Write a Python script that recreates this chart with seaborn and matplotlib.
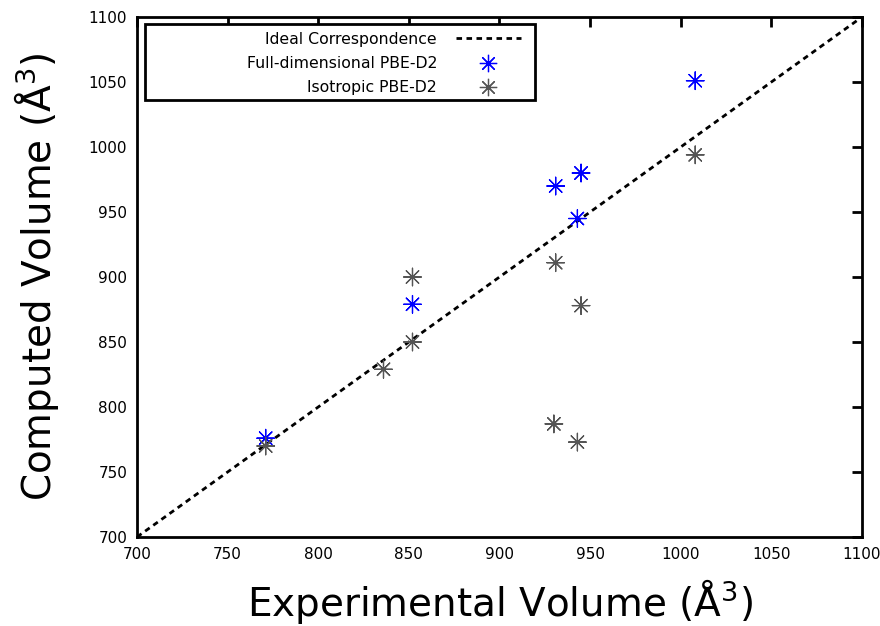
import matplotlib
matplotlib.use("Agg")
import matplotlib.pyplot as plt
from matplotlib.patches import Rectangle
from matplotlib.lines import Line2D
import seaborn as sns
import pandas as pd

# Data
full_exp = [771, 852, 931, 945, 943, 1008]
full_comp = [776, 879, 970, 980, 945, 1051]
iso_exp = [771, 836, 852, 852, 931, 945, 930, 943, 1008]
iso_comp = [770, 829, 850, 900, 911, 878, 787, 773, 994]
ideal_x = [700, 1100]
ideal_y = [700, 1100]
labels = ["Ideal Correspondence", "Full-dimensional PBE-D2", "Isotropic PBE-D2"]
ticks = [700, 750, 800, 850, 900, 950, 1000, 1050, 1100]

sns.set_theme(style="white")
plt.rcParams['font.family'] = ['DejaVu Sans']
plt.rcParams['text.color'] = 'black'
plt.rcParams['axes.labelcolor'] = 'black'

df = pd.DataFrame({
    "exp": full_exp + iso_exp,
    "comp": full_comp + iso_comp,
    "series": [labels[1]] * len(full_exp) + [labels[2]] * len(iso_exp),
})

fig = plt.figure(figsize=(8.8, 6.26), dpi=100)
ax = fig.add_axes([0.1557, 0.1422, 0.8238, 0.8306])

ideal_df = pd.DataFrame({"x": ideal_x, "y": ideal_y})
sns.lineplot(data=ideal_df, x="x", y="y", ax=ax, color="black", lw=2,
             linestyle=(0, (2.0, 1.6)), legend=False)

colors = {labels[1]: "#0000ff", labels[2]: "#555555"}
mk = (8, 2, 0)
sns.scatterplot(data=df, x="exp", y="comp", hue="series", palette=colors,
                marker=mk, s=160, linewidth=0.9, ax=ax, legend=False, zorder=3)

ax.set_xlim(700, 1100)
ax.set_ylim(700, 1100)
ax.set_xticks(ticks)
ax.set_yticks(ticks)
ax.tick_params(direction="in", length=7, width=2, top=True, right=True,
               labelsize=11, pad=7, colors="black", labelcolor="black")
for s in ax.spines.values():
    s.set_visible(True)
    s.set_linewidth(2)
    s.set_color("black")

ax.set_xlabel(r"Experimental Volume (Å$^{\mathregular{3}}$)", fontsize=28, labelpad=11)
ax.set_ylabel(r"Computed Volume (Å$^{\mathregular{3}}$)", fontsize=28, labelpad=20)

# legend frame
ax.add_patch(Rectangle((0.011, 0.840), 0.538, 0.1465, transform=ax.transAxes,
                       fill=True, facecolor="white", edgecolor="black", lw=2, zorder=4))
handles = [
    Line2D([], [], color="black", lw=2, linestyle=(0, (2.0, 1.6))),
    Line2D([], [], color="#0000ff", marker=mk, markersize=12.5, lw=0, markeredgewidth=0.9),
    Line2D([], [], color="#555555", marker=mk, markersize=12.5, lw=0, markeredgewidth=0.9),
]
leg = ax.legend(handles, labels, loc="upper right", bbox_to_anchor=(0.547, 0.996),
                markerfirst=False, frameon=False, fontsize=11.3, handlelength=4.15,
                handletextpad=1.2, labelspacing=0.6, borderpad=0.3)
leg.set_zorder(5)

fig.savefig("out.png", dpi=100)
